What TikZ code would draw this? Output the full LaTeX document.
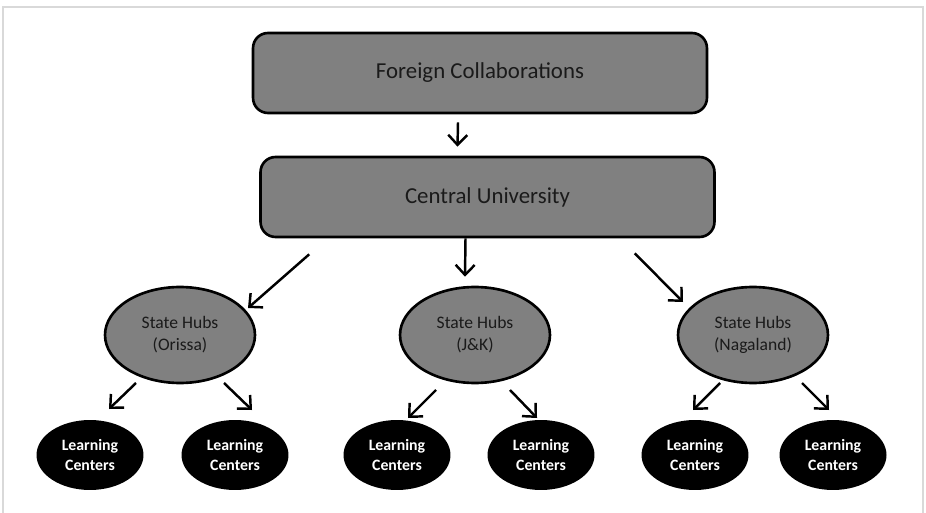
\documentclass[tikz,border=0pt]{standalone}
\usepackage{fontspec}
\setmainfont{Carlito}
\usepackage{tikz}
\usetikzlibrary{arrows.meta,shapes.geometric,calc}

\definecolor{boxgrey}{HTML}{808080}
\definecolor{txtgrey}{HTML}{1A1A1A}
\definecolor{framegrey}{HTML}{D9D9D9}

\tikzset{
	levelbox/.style={draw=black, line width=1.5pt, fill=boxgrey, rounded corners=0.3cm,
		minimum width=9.08cm, minimum height=1.6cm, text=txtgrey, font=\fontsize{13}{15}\selectfont},
	hub/.style={ellipse, draw=black, line width=1.5pt, fill=boxgrey, inner sep=0pt,
		minimum width=3.0cm, minimum height=1.92cm, text=txtgrey, align=center,
		font=\fontsize{10}{12.5}\selectfont},
	center/.style={ellipse, fill=black, inner sep=0pt, minimum width=2.14cm, minimum height=1.4cm,
		text=white, align=center, font=\fontsize{9}{11.3}\selectfont\bfseries},
	arr/.style={line width=1.4pt, -{Straight Barb[length=2mm,width=3.8mm]}}
}

\begin{document}
\begin{tikzpicture}[x=0.02cm, y=-0.02cm]
	
	\useasboundingbox (0,0) rectangle (926,513);
	
	% frame
	\draw[framegrey, line width=1.2pt] (3,513) -- (3,7) -- (923,7) -- (923,513);
	
	\node[levelbox] (fc) at (480,73) {Foreign Collaborations};
	\node[levelbox] (cu) at (487.5,197) {Central University};
	
	\node[hub] (hubA) at (180,335) {State Hubs\\(Orissa)};
	\node[hub] (hubB) at (475,335) {State Hubs\\(J\&K)};
	\node[hub] (hubC) at (753,335) {State Hubs\\(Nagaland)};
	
	\node[center] (lcA1) at (90,455) {Learning\\Centers};
	\node[center] (lcA2) at (235,455) {Learning\\Centers};
	\node[center] (lcB1) at (397,455) {Learning\\Centers};
	\node[center] (lcB2) at (541,455) {Learning\\Centers};
	\node[center] (lcC1) at (695,455) {Learning\\Centers};
	\node[center] (lcC2) at (833,455) {Learning\\Centers};
	
	\draw[arr] ($(fc.south)+(-22,8)$) -- ($(cu.north)+(-30,-9)$);
	
	\draw[arr] ($(cu.south west)+(50,16)$) -- ($(hubA)+(68,-27)$);
	\draw[arr] ($(cu.south)+(-22,0)$) -- ($(hubB.north)+(-10,-9)$);
	\draw[arr] ($(cu.south east)+(-81,15)$) -- ($(hubC)+(-70,-33)$);
	
	\draw[arr] ($(hubA)+(-44,48)$) -- ($(lcA1)+(19,-46)$);
	\draw[arr] ($(hubA)+(44,48)$) -- ($(lcA2)+(17,-45)$);
	\draw[arr] ($(hubB)+(-39,55)$) -- ($(lcB1)+(11,-37)$);
	\draw[arr] ($(hubB)+(35,55)$) -- ($(lcB2)+(-4,-37)$);
	\draw[arr] ($(hubC)+(-33,48)$) -- ($(lcC1)+(-2,-45)$);
	\draw[arr] ($(hubC)+(49,48)$) -- ($(lcC2)+(-4,-45)$);
	
\end{tikzpicture}
\end{document}
